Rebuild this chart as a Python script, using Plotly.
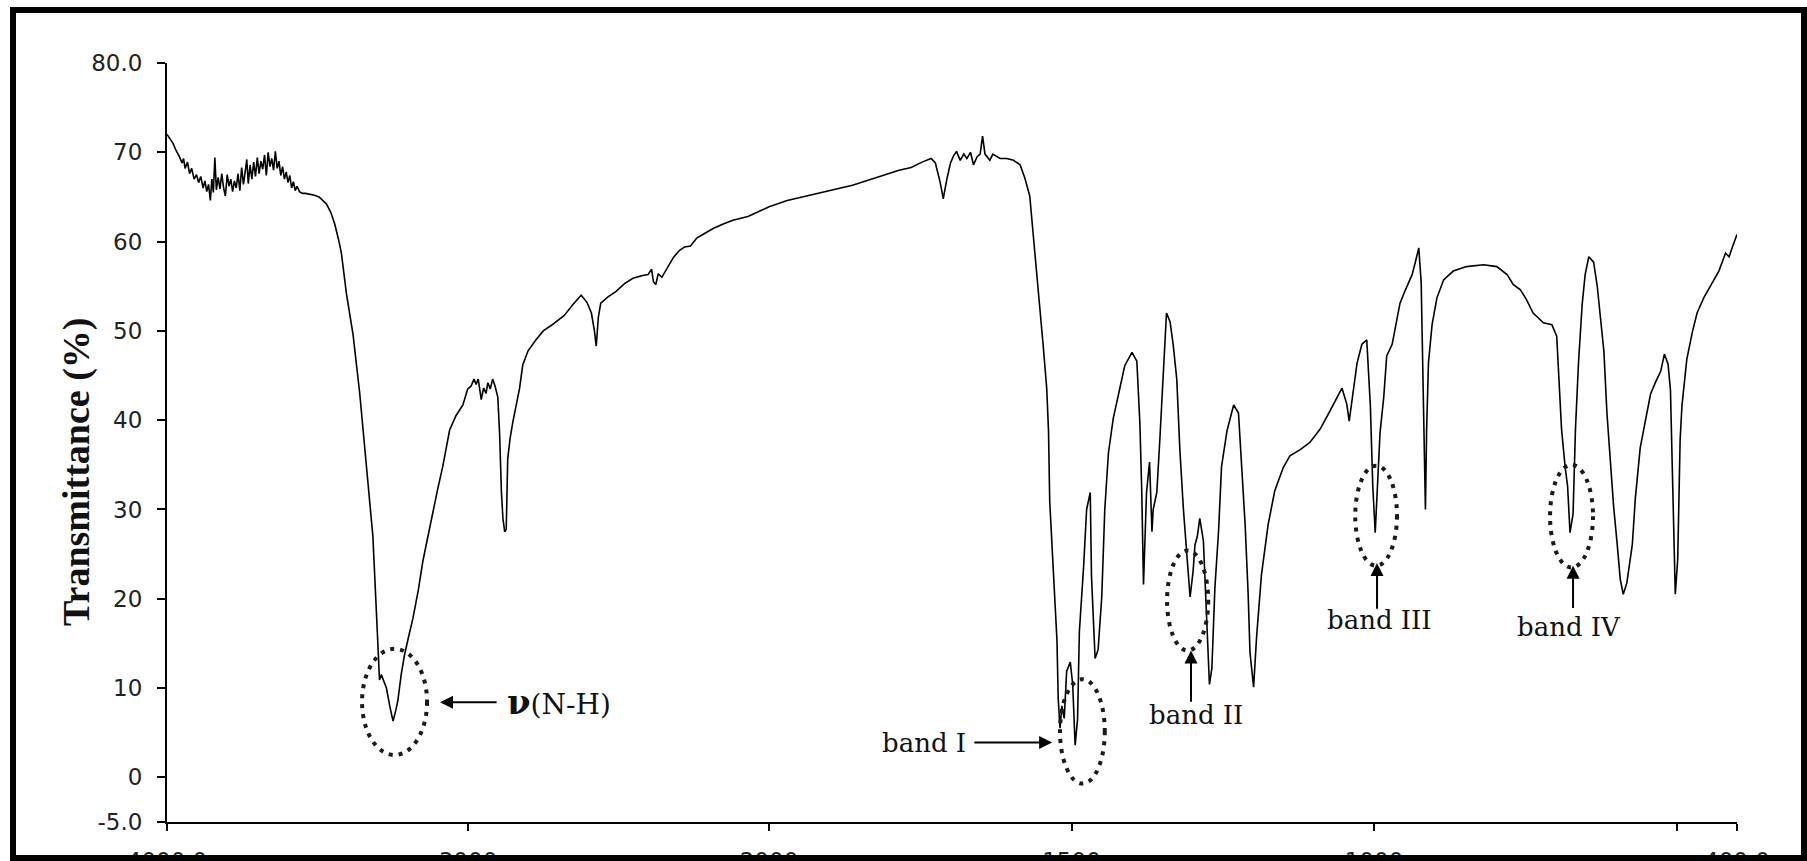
import plotly.graph_objects as go

# FT-IR spectrum: wavenumber (cm-1) and transmittance (%)
wavenumber = [
    4000, 3990, 3980, 3970, 3960, 3950, 3945, 3940, 3932, 3925, 3918, 3910, 3902, 3895,
    3888, 3880, 3874, 3868, 3862, 3856, 3851, 3846, 3841, 3836, 3830, 3824, 3818, 3812,
    3806, 3800, 3794, 3788, 3782, 3776, 3770, 3764, 3758, 3752, 3746, 3740, 3735, 3730,
    3724, 3718, 3712, 3706, 3700, 3694, 3688, 3682, 3676, 3670, 3664, 3658, 3652, 3646,
    3640, 3634, 3628, 3622, 3616, 3610, 3604, 3598, 3592, 3586, 3580, 3574, 3568, 3560,
    3550, 3540, 3525, 3510, 3495, 3480, 3470, 3455, 3443, 3430, 3421, 3404, 3382, 3360,
    3338, 3316, 3305, 3299, 3294, 3288, 3271, 3260, 3249, 3240, 3233, 3222, 3211, 3197,
    3183, 3165, 3150, 3133, 3117, 3100, 3084, 3070, 3061, 3040, 3017, 3001, 2990, 2980,
    2973, 2966, 2956, 2948, 2940, 2934, 2926, 2918, 2910, 2901, 2895, 2889, 2884, 2878,
    2873, 2868, 2860, 2851, 2840, 2829, 2818, 2800, 2774, 2750, 2724, 2697, 2681, 2650,
    2624, 2605, 2590, 2580, 2574, 2567, 2559, 2535, 2509, 2480, 2452, 2420, 2402, 2390,
    2384, 2376, 2368, 2356, 2336, 2318, 2298, 2280, 2261, 2240, 2220, 2184, 2150, 2120,
    2070, 2040, 2000,
    1970, 1938, 1900, 1862, 1830, 1800, 1785, 1765, 1747, 1732, 1725, 1717, 1712, 1706,
    1700, 1695, 1690, 1684, 1678, 1673, 1667, 1662, 1656, 1651, 1647, 1643, 1638, 1635,
    1630, 1626, 1618, 1607, 1596, 1585, 1577, 1569, 1563, 1558, 1552, 1547, 1541, 1538,
    1536, 1530, 1524, 1522, 1519, 1516, 1512, 1508, 1502, 1498, 1494, 1490, 1487, 1480,
    1475, 1469, 1467, 1461, 1456, 1450, 1445, 1439, 1431, 1420, 1412, 1400, 1392, 1387,
    1384, 1381, 1376, 1371, 1367, 1365, 1359, 1354, 1348, 1343, 1337, 1332, 1326, 1321,
    1315, 1310, 1304, 1299, 1296, 1292, 1288, 1282, 1277, 1272, 1268, 1263, 1257, 1252,
    1243, 1232, 1224, 1219, 1213, 1208, 1205, 1199, 1194, 1186, 1175, 1164, 1150, 1139,
    1122, 1106, 1089, 1073, 1062, 1053, 1045, 1041, 1034, 1028, 1020, 1012, 1006, 1002,
    998, 994, 990, 984, 979, 970, 965, 957, 948, 937, 932, 926, 922, 918,
    915, 913, 910, 904, 896, 885, 869, 847, 819, 797, 780, 770, 758, 748,
    737, 720, 706, 698, 694, 690, 684, 680, 676, 671, 667, 662, 656, 651,
    645, 637, 631, 626, 620, 615, 609, 604, 598, 593, 588, 582, 573, 568,
    560, 551, 543, 535, 526, 520, 514, 510, 507, 504, 502, 498, 494, 491,
    483, 474, 466, 455, 444, 430, 419, 413, 408, 400,
]
transmittance = [
    72.0, 71.5, 71.0, 70.2, 69.6, 68.8, 69.3, 68.2, 68.9, 67.6, 68.2, 67.0, 67.5, 66.6,
    67.3, 66.0, 66.8, 65.6, 66.4, 64.6, 67.0, 65.5, 69.4, 65.8, 67.2, 65.9, 67.6, 66.0,
    65.1, 67.5, 66.2, 67.0, 65.6, 66.8, 66.0, 67.6, 65.7, 68.3, 66.4, 67.9, 69.2, 66.5,
    68.6, 67.0, 68.9, 67.3, 69.4, 67.6, 69.0, 68.1, 69.7, 67.4, 70.0, 68.4, 69.3, 68.0,
    70.1, 68.2, 69.0, 67.4, 68.4, 67.0, 67.8, 66.6, 67.4, 66.0, 66.7, 65.7, 66.2, 65.6,
    65.4, 65.4, 65.3, 65.2, 65.0, 64.5, 64.2, 63.2, 62.0, 60.2, 58.8, 54.2, 49.6, 43.1,
    34.8, 27.0, 19.0, 14.1, 10.9, 11.5, 10.0, 8.0, 6.3, 7.5, 8.6, 11.5, 13.7, 15.8,
    17.8, 21.0, 24.2, 27.0, 29.7, 32.4, 34.8, 37.2, 38.9, 40.5, 41.7, 43.5, 43.8, 44.6,
    44.0, 44.6, 42.3, 43.6, 43.0, 44.2, 43.5, 44.6, 43.8, 42.6, 38.5, 32.0, 29.0, 27.5,
    27.8, 35.7, 38.0, 39.8, 41.8, 43.5, 46.2, 47.8, 49.0, 50.0, 50.6, 51.3, 51.7, 53.0,
    54.0, 53.2, 52.0, 50.0, 48.3, 51.5, 53.1, 53.8, 54.4, 55.3, 55.9, 56.2, 56.3, 56.9,
    55.5, 55.2, 56.4, 56.0, 57.2, 58.2, 59.0, 59.4, 59.5, 60.4, 60.8, 61.5, 62.0, 62.4,
    62.8, 63.3, 63.9,
    64.6, 65.1, 65.7, 66.3, 67.0, 67.7, 68.0, 68.3, 68.9, 69.3, 68.8, 66.6, 64.8, 67.0,
    68.8, 69.6, 70.1, 69.1, 69.8, 69.3, 70.0, 68.6, 69.5, 69.8, 71.8, 69.8, 69.4, 69.1,
    69.8, 69.6, 69.3, 69.3, 69.1, 68.6, 67.1, 65.1, 60.8, 56.8, 52.9, 48.5, 43.6, 38.8,
    30.9, 23.1, 15.3, 8.9, 5.5, 8.0, 6.6, 11.9, 12.9, 10.4, 3.6, 6.5, 16.3, 23.6,
    30.0, 31.9, 22.6, 13.3, 14.3, 20.2, 30.0, 36.3, 40.2, 43.6, 46.1, 47.6, 46.6, 39.7,
    32.4, 21.6, 31.9, 35.3, 27.5, 30.0, 31.9, 37.8, 45.6, 52.0, 51.0, 48.5, 44.6, 36.8,
    30.0, 25.1, 20.2, 23.1, 26.0, 27.0, 29.0, 26.5, 17.7, 10.4, 12.2, 21.2, 27.5, 34.8,
    38.8, 41.7, 40.8, 34.7, 28.3, 20.5, 14.0, 10.1, 15.8, 22.7, 28.3, 32.1, 34.7, 36.0,
    36.7, 37.5, 39.0, 41.0, 42.5, 43.6, 41.8, 39.9, 43.4, 46.4, 48.5, 49.0, 41.6, 32.6,
    27.4, 33.4, 38.6, 42.5, 47.2, 48.5, 50.3, 53.1, 54.6, 56.3, 57.6, 59.3, 55.4, 41.6,
    30.0, 39.0, 46.4, 50.7, 53.7, 55.7, 56.7, 57.2, 57.4, 57.2, 56.3, 55.2, 54.6, 53.5,
    52.0, 50.9, 50.7, 49.4, 44.2, 39.0, 34.7, 32.6, 27.4, 29.5, 39.0, 46.4, 52.9, 56.3,
    58.3, 57.7, 55.0, 52.0, 47.7, 40.8, 34.7, 30.4, 26.1, 22.2, 20.5, 21.8, 26.1, 31.3,
    36.9, 39.9, 42.9, 44.2, 45.5, 47.4, 46.3, 43.4, 35.6, 24.8, 20.5, 24.4, 37.8, 41.6,
    46.8, 49.8, 52.0, 53.7, 55.0, 56.7, 58.7, 58.3, 59.3, 60.8,
]

# Axis ticks (the scale is expanded below 2000 cm-1)
x_ticks_high = [4000, 3000, 2000]
x_labels_high = ["4000.0", "3000", "2000"]
x_ticks_low = [2000, 1500, 1000, 500, 400]
x_labels_low = ["", "1500", "1000", "", "400.0"]
y_ticks = [-5, 0, 10, 20, 30, 40, 50, 60, 70, 80]
y_labels = ["-5.0", "0", "10", "20", "30", "40", "50", "60", "70", "80.0"]

# Marked bands: (axis, centre wavenumber, wavenumber half-width, T low, T high)
marked_bands = [
    ("x", 3244, 108, 2.5, 14.4),     # nu(N-H)
    ("x2", 1482, 37, -0.7, 11.0),    # band I
    ("x2", 1308, 34, 14.2, 25.4),    # band II
    ("x2", 996.5, 34.5, 23.7, 34.9), # band III
    ("x2", 673.5, 35.5, 23.5, 35.0), # band IV
]

split = 2000
high = [(w, t) for w, t in zip(wavenumber, transmittance) if w >= split]
low = [(w, t) for w, t in zip(wavenumber, transmittance) if w <= split]

fig = go.Figure()
line_style = dict(color="black", width=1.6)
fig.add_trace(go.Scatter(x=[p[0] for p in high], y=[p[1] for p in high],
                         mode="lines", line=line_style, xaxis="x", yaxis="y",
                         showlegend=False, hoverinfo="skip"))
fig.add_trace(go.Scatter(x=[p[0] for p in low], y=[p[1] for p in low],
                         mode="lines", line=line_style, xaxis="x2", yaxis="y",
                         showlegend=False, hoverinfo="skip"))

tick_font = dict(family="DejaVu Sans", size=23, color="#222222")
label_font = dict(family="DejaVu Serif", size=26, color="#111111")

common_x = dict(showline=True, linecolor="black", linewidth=2, ticks="outside",
                ticklen=7, tickwidth=2, tickcolor="black", showgrid=False,
                zeroline=False, tickmode="array", tickfont=tick_font,
                ticklabelstandoff=10, anchor="y", fixedrange=True,
                automargin=False)

split_frac = 602 / 1570

fig.update_layout(
    width=1807, height=861,
    margin=dict(l=167, r=70, t=63, b=39, pad=0, autoexpand=False),
    paper_bgcolor="white", plot_bgcolor="white",
    xaxis=dict(domain=[0, split_frac], range=[4000, 2000],
               tickvals=x_ticks_high, ticktext=x_labels_high, **common_x),
    xaxis2=dict(domain=[split_frac, 1], range=[2000, 400],
                tickvals=x_ticks_low, ticktext=x_labels_low, **common_x),
    yaxis=dict(range=[-5, 80], tickmode="array", tickvals=y_ticks, ticktext=y_labels,
               showline=True, linecolor="black", linewidth=2, ticks="outside",
               ticklen=8, tickwidth=2, tickcolor="black", showgrid=False,
               zeroline=False, tickfont=tick_font, ticklabelstandoff=10,
               fixedrange=True, automargin=False),
    showlegend=False,
)

dotted = dict(color="#1a1a1a", width=4, dash="4px,6px")
shapes = []
for xr, c, hw, t0, t1 in marked_bands:
    shapes.append(dict(type="circle", xref=xr, yref="y", x0=c + hw, x1=c - hw,
                       y0=t0, y1=t1, line=dotted, layer="above"))
# frame around the whole figure
shapes.append(dict(type="rect", xref="paper", yref="paper",
                   x0=(13 - 167) / 1570, x1=(1804 - 167) / 1570,
                   y0=(822 - 858) / 759, y1=(822 - 10) / 759,
                   line=dict(color="black", width=6), layer="above"))
fig.update_layout(shapes=shapes)

arrow = dict(showarrow=True, arrowhead=2, arrowsize=1.3, arrowwidth=2,
             arrowcolor="black", text="", yref="y", ayref="y")
annotations = [
    # nu(N-H)
    dict(x=3093, y=8.4, xref="x", axref="x", ax=2900, ay=8.4, **arrow),
    dict(x=2877, y=8.4, xref="x", yref="y", showarrow=False, xanchor="left",
         yanchor="middle", font=dict(family="DejaVu Serif", size=28, color="#111111"),
         text='<span style="font-size:34px"><b>ν</b></span>(N-H)'),
    # band I
    dict(x=1532, y=3.9, xref="x2", axref="x2", ax=1663, ay=3.9, **arrow),
    dict(x=1671, y=3.9, xref="x2", yref="y", showarrow=False, xanchor="right",
         yanchor="middle", font=label_font, text="band I"),
    # band II
    dict(x=1302.5, y=14.2, xref="x2", axref="x2", ax=1302.5, ay=8.3, **arrow),
    dict(x=1294, y=7.0, xref="x2", yref="y", showarrow=False, xanchor="center",
         yanchor="middle", font=label_font, text="band II"),
    # band III
    dict(x=995, y=24.0, xref="x2", axref="x2", ax=995, ay=18.7, **arrow),
    dict(x=991.7, y=17.6, xref="x2", yref="y", showarrow=False, xanchor="center",
         yanchor="middle", font=label_font, text="band III"),
    # band IV
    dict(x=671, y=23.7, xref="x2", axref="x2", ax=671, ay=18.8, **arrow),
    dict(x=677, y=16.8, xref="x2", yref="y", showarrow=False, xanchor="center",
         yanchor="middle", font=label_font, text="band IV"),
    # y-axis title
    dict(x=(76 - 167) / 1570, y=(822 - 472) / 759, xref="paper", yref="paper",
         showarrow=False, textangle=-90, xanchor="center", yanchor="middle",
         text="<b>Transmittance (%)</b>",
         font=dict(family="Liberation Serif", size=38, color="#111111")),
]
fig.update_layout(annotations=annotations)

fig.write_html("out.html", config={"displayModeBar": False})
